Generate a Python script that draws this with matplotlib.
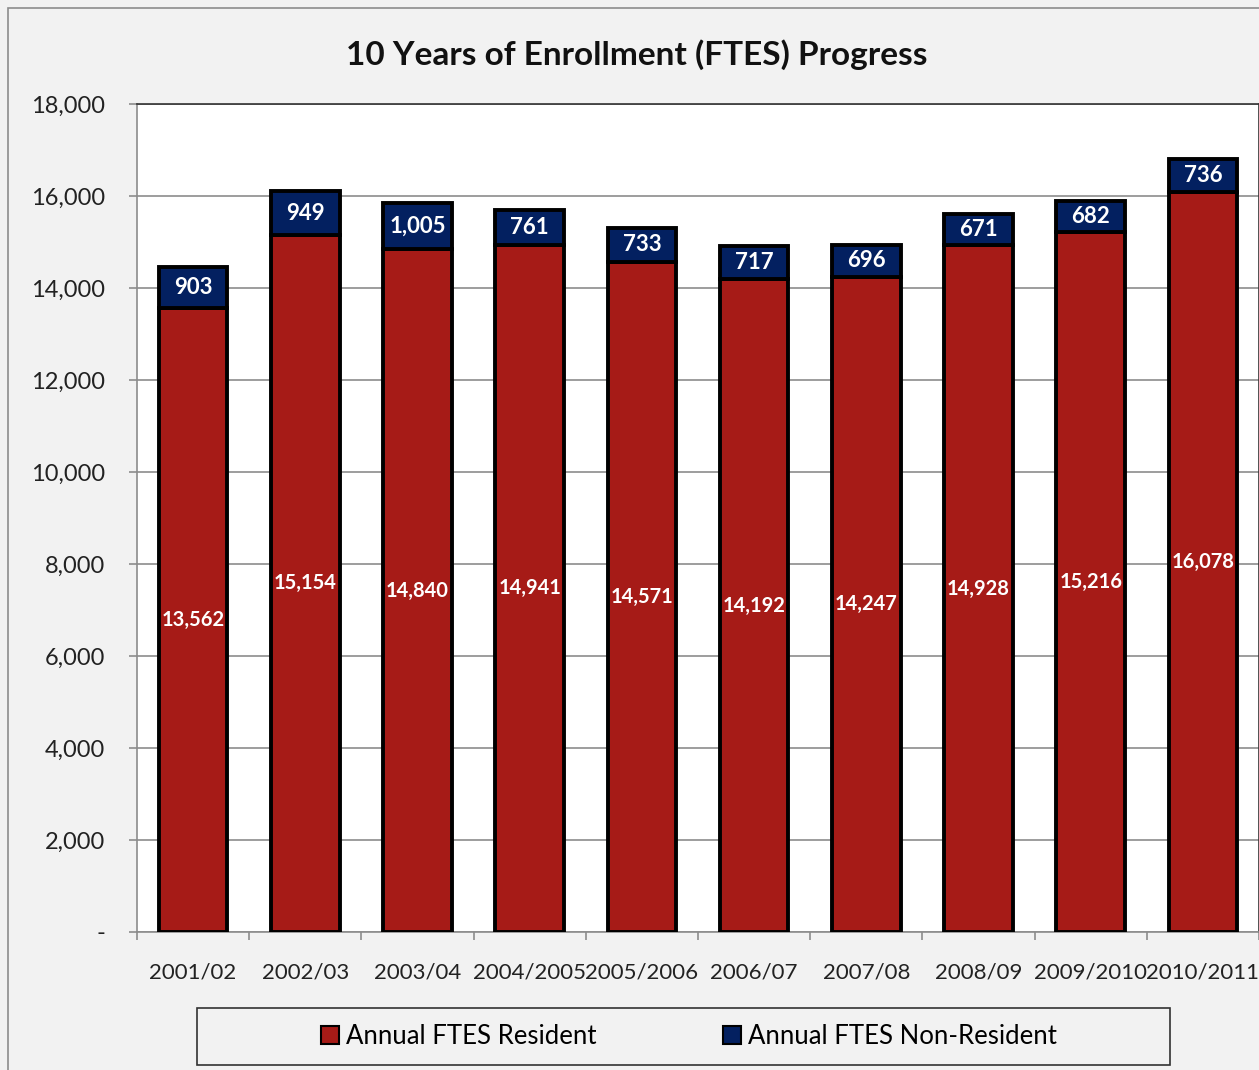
import numpy as np
import matplotlib.pyplot as plt
from matplotlib.patches import Rectangle

years = ["2001/02", "2002/03", "2003/04", "2004/2005", "2005/2006",
         "2006/07", "2007/08", "2008/09", "2009/2010", "2010/2011"]
resident = [13562, 15154, 14840, 14941, 14571, 14192, 14247, 14928, 15216, 16078]
non_resident = [903, 949, 1005, 761, 733, 717, 696, 671, 682, 736]

red = '#a61b17'
navy = '#032060'

plt.rcParams['font.family'] = ['Lato', 'DejaVu Sans']

fig = plt.figure(figsize=(12.59, 10.70), dpi=100, facecolor='#f2f2f2')
fig.patches.append(Rectangle((8/1259, -0.01), 1.0, (1070-8)/1070 + 0.01, transform=fig.transFigure,
                             fill=False, edgecolor='#8c8c8c', lw=1.2))
ax = fig.add_axes([137/1259, (1070-932)/1070, (1259-137)/1259, (932-104)/1070])
ax.set_facecolor('white')

x = np.arange(len(years))
w = 0.61
ax.bar(x, resident, w, color=red, edgecolor='black', lw=2.8, zorder=3, label='Annual FTES Resident')
ax.bar(x, non_resident, w, bottom=resident, color=navy, edgecolor='black', lw=2.8, zorder=3,
       label='Annual FTES Non-Resident')

for i in range(len(years)):
    ax.text(x[i], resident[i] / 2, f"{resident[i]:,}", ha='center', va='center',
            color='white', fontsize=14.5, fontweight='bold', zorder=4)
    ax.text(x[i], resident[i] + non_resident[i] / 2, f"{non_resident[i]:,}", ha='center', va='center',
            color='white', fontsize=16, fontweight='bold', zorder=4)

ax.set_xlim(-0.5, 9.5)
ax.set_ylim(0, 18000)
ax.set_yticks(range(0, 18001, 2000))
ax.set_yticklabels(['-'] + [f"{v:,}" for v in range(2000, 18001, 2000)], fontsize=17, color='#222222')
ax.yaxis.grid(True, color='#8c8c8c', lw=1.2, zorder=0)
ax.tick_params(axis='y', length=6, width=1.2, color='#8c8c8c', pad=17)

ax.set_xticks(x)
ax.set_xticklabels(years, fontsize=16, color='#222222')
ax.set_xticks(np.arange(-0.5, 10, 1), minor=True)
ax.tick_params(axis='x', which='major', length=0, pad=22)
ax.tick_params(axis='x', which='minor', length=6, width=1.2, color='#8c8c8c')

for s in ['left', 'bottom']:
    ax.spines[s].set_color('#8c8c8c')
    ax.spines[s].set_linewidth(1.2)
for s in ['top', 'right']:
    ax.spines[s].set_color('#333333')
    ax.spines[s].set_linewidth(1.2)

fig.text(637/1259, 1 - 55/1070, "10 Years of Enrollment (FTES) Progress", ha='center', va='center',
         fontsize=24, fontweight='bold', color='#111111')

# legend box drawn separately so it matches the reference size
fig.patches.append(Rectangle((197/1259, (1070-1065)/1070), (1170-197)/1259, 57/1070,
                             transform=fig.transFigure, fill=False, edgecolor='#333333', lw=1.2))
leg = fig.legend(loc='center', bbox_to_anchor=(689/1259, 1 - 1036/1070),
                 ncol=2, fontsize=18.5, frameon=False,
                 handlelength=0.7, handleheight=0.7, handletextpad=0.25, columnspacing=4.95)
for h in leg.legend_handles:
    h.set_linewidth(1.5)

fig.savefig('out.png', dpi=100, facecolor=fig.get_facecolor())
